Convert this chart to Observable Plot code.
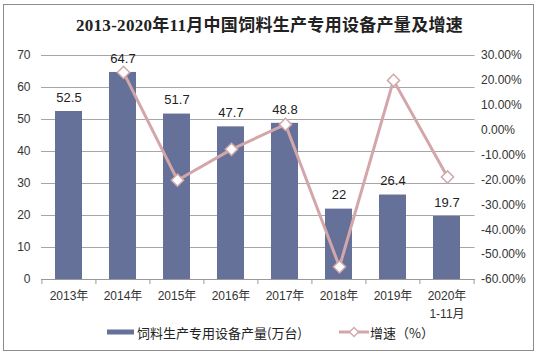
<!DOCTYPE html>
<html>
<head>
<meta charset="utf-8">
<script src="https://cdn.jsdelivr.net/npm/d3@7"></script>
<script src="https://cdn.jsdelivr.net/npm/@observablehq/plot@0.6"></script>
<style>
  html, body { margin: 0; padding: 0; background: #fff; }
  #wrap { position: relative; width: 539px; height: 358px; overflow: hidden; font-family: "Liberation Sans", Arial, "Noto Sans CJK SC", sans-serif; }
  #frame { position: absolute; left: 3px; top: 4px; width: 529px; height: 345px; border: 1.5px solid #8c8c8c; }
  #title { position: absolute; left: 0; top: 11px; width: 539px; text-align: center; font-family: "Liberation Serif", "Noto Sans CJK SC", serif; font-weight: bold; font-size: 17px; color: #222; letter-spacing: 0.3px; }
  .layer { position: absolute; left: 0; top: 0; }
  #legend { position: absolute; left: 0; top: 322px; width: 539px; height: 20px; font-family: "Noto Sans CJK SC", sans-serif; font-size: 13px; color: #222; }
  .lg { position: absolute; top: 0; display: flex; align-items: center; height: 20px; white-space: nowrap; }
</style>
</head>
<body>
<div id="wrap">
  <div id="frame"></div>
  <div id="title">2013-2020年11月中国饲料生产专用设备产量及增速</div>
  <div id="chart1" class="layer"></div>
  <div id="chart2" class="layer"></div>
  <div id="legend"></div>
</div>
<script>
// ---- data ----
const years = ["2013年", "2014年", "2015年", "2016年", "2017年", "2018年", "2019年", "2020年"];
const yearLabels = ["2013年", "2014年", "2015年", "2016年", "2017年", "2018年", "2019年", "2020年\n1-11月"];
const output = [52.5, 64.7, 51.7, 47.7, 48.8, 22, 26.4, 19.7];          // 万台
const growth = [null, 23.2, -20.1, -7.7, 2.3, -54.9, 20.0, -18.8];      // %
const leftTicks = [0, 10, 20, 30, 40, 50, 60, 70];
const rightTicks = [-60, -50, -40, -30, -20, -10, 0, 10, 20, 30];
const seriesNames = ["饲料生产专用设备产量(万台)", "增速（%）"];

const barColor = "#667199";
const lineColor = "#d3a7aa";

const rows = years.map((y, i) => ({year: y, label: yearLabels[i], output: output[i], growth: growth[i]}));
const lineRows = rows.filter(d => d.growth != null);

const W = 539, H = 322, mL = 41, mR = 64.5, mT = 55, mB = 43;
const halfStep = (W - mL - mR) / years.length / 2;
const labelOf = Object.fromEntries(rows.map(d => [d.year, d.label]));

const chart1 = Plot.plot({
  width: W, height: H,
  marginLeft: mL, marginRight: mR, marginTop: mT, marginBottom: mB,
  style: {background: "transparent", fontFamily: "'Liberation Sans', Arial, 'Noto Sans CJK SC', sans-serif", fontSize: "12px", color: "#333"},
  x: {domain: years, paddingInner: 0.5, paddingOuter: 0.25, label: null},
  y: {domain: [0, 70], label: null},
  marks: [
    Plot.gridY(leftTicks, {stroke: "#a6a6a6", strokeOpacity: 1}),
    Plot.barY(rows, {x: "year", y: "output", fill: barColor}),
    Plot.ruleY([0], {stroke: "#999"}),
    Plot.ruleX(rows, {x: "year", dx: -halfStep, y1: 0, y2: -1.6, stroke: "#999", clip: false}),
    Plot.ruleX(rows.slice(-1), {x: "year", dx: halfStep, y1: 0, y2: -1.6, stroke: "#999", clip: false}),
    Plot.text(rows, {x: "year", y: "output", text: d => String(d.output), dy: -14, fontSize: 13, fill: "#222"}),
    Plot.axisY({ticks: leftTicks, tickSize: 0, tickPadding: 11, fontSize: 12, fill: "#333"}),
    Plot.axisX({tickSize: 0, tickPadding: 8, tickFormat: d => labelOf[d], lineHeight: 1.5, fontSize: 12, fill: "#333"})
  ]
});
document.getElementById("chart1").appendChild(chart1);

const chart2 = Plot.plot({
  width: W, height: H,
  marginLeft: mL, marginRight: mR, marginTop: mT, marginBottom: mB,
  style: {background: "transparent", fontFamily: "'Liberation Sans', Arial, sans-serif", fontSize: "12px", color: "#333"},
  x: {type: "point", domain: years, padding: 0.5, axis: null},
  y: {domain: [-60, 30], label: null},
  marks: [
    Plot.axisY({anchor: "right", ticks: rightTicks, tickSize: 0, tickPadding: 6, tickFormat: d => d.toFixed(2) + "%", fontSize: 12, fill: "#333", textAnchor: "start"}),
    Plot.line(lineRows, {x: "year", y: "growth", stroke: lineColor, strokeWidth: 3}),
    Plot.dot(lineRows, {x: "year", y: "growth", symbol: "diamond2", r: 5.5, fill: "#fff", stroke: lineColor, strokeWidth: 1.5})
  ]
});
document.getElementById("chart2").appendChild(chart2);

// ---- legend ----
const lg = document.getElementById("legend");
lg.innerHTML = `
  <div class="lg" style="left:107px"><svg width="27" height="8"><rect x="0" y="1.5" width="27" height="5" fill="${barColor}"/></svg><span style="margin-left:3px">${seriesNames[0]}</span></div>
  <div class="lg" style="left:339px"><svg width="30" height="12"><line x1="0" y1="6" x2="30" y2="6" stroke="${lineColor}" stroke-width="3"/><path d="M15,1.5 L19.5,6 L15,10.5 L10.5,6 Z" fill="#fff" stroke="${lineColor}" stroke-width="1.3"/></svg><span style="margin-left:1px">${seriesNames[1]}</span></div>
`;
</script>
</body>
</html>
